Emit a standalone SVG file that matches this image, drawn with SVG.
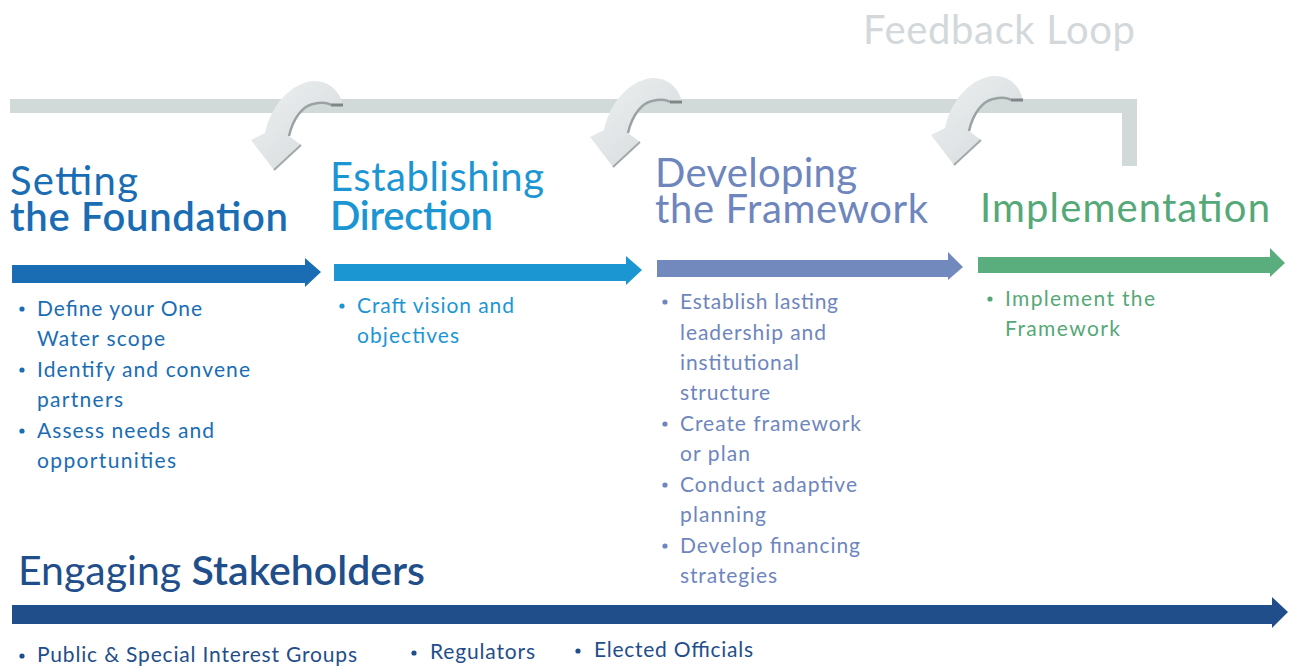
<svg xmlns="http://www.w3.org/2000/svg" width="1291" height="669" viewBox="0 0 1291 669">
<style>
text{font-family:Lato,"Open Sans","Liberation Sans",sans-serif}
.h{font-size:40px}
.hb{font-size:40px;font-weight:600}
.b{font-size:21px}
.c1{fill:#1a6db3}
.c2{fill:#1c96d3}
.c3{fill:#6e86bd}
.c4{fill:#55a877}
.c5{fill:#1f4e8a}
</style>
<defs>
<linearGradient id="cg" x1="0" y1="0" x2="1" y2="1">
<stop offset="0" stop-color="#eef1f2"/>
<stop offset="1" stop-color="#d3d8da"/>
</linearGradient>
<g id="curl">
<path d="M92,25 C88,8 75,0 62,1 C40,3 20,25 14,53 L0,60 L23,90 L50,65 L38,56 C42,38 52,26 62,24 C70,22 76,22 80,25 Z" fill="url(#cg)"/>
<path d="M38,56 C42,38 52,26 62,24 C70,22 76,22 80,25" fill="none" stroke="#9ba2a4" stroke-width="2.5"/>
<path d="M80,25 L92,25" fill="none" stroke="#7f8688" stroke-width="3"/>
<path d="M50,65 L23,90" fill="none" stroke="#a3a9ab" stroke-width="2"/>
</g>
</defs>

<g id="feedback-loop">
<text x="863" y="44" font-size="40" fill="#d3d8db" textLength="272">Feedback Loop</text>
<path d="M10,99 H1137 V166 H1122 V113 H10 Z" fill="#d2d9d9"/>
</g>

<g id="curls">
<use href="#curl" transform="translate(251,80)"/>
<use href="#curl" transform="translate(590,77)"/>
<use href="#curl" transform="translate(931,75)"/>
</g>

<g id="connectors">
<path d="M12,265 H305 V258 L321,272 L305,287 V283 H12 Z" fill="#1a6db3"/>
<path d="M334,264 H626 V256 L642,270 L626,285 V281 H334 Z" fill="#1c96d3"/>
<path d="M657,260 H948 V252 L963,267 L948,280 V277 H657 Z" fill="#7289bd"/>
<path d="M978,257 H1270 V248 L1285,263 L1270,277 V273 H978 Z" fill="#5aad7c"/>
<path d="M12,605 H1272 V597 L1288,612 L1272,628 V624 H12 Z" fill="#1f4e8a"/>
</g>

<g id="setting-foundation">
<text class="h c1" x="10" y="195" textLength="128">Setting</text>
<text class="hb c1" x="10" y="231" textLength="278">the Foundation</text>
<g class="b c1">
<circle cx="22" cy="309" r="2.6" fill="#1a6db3"/>
<text x="37" y="316" textLength="165">Define your One</text>
<text x="37" y="346" textLength="128">Water scope</text>
<circle cx="22" cy="370" r="2.6" fill="#1a6db3"/>
<text x="37" y="377" textLength="213">Identify and convene</text>
<text x="37" y="407" textLength="86">partners</text>
<circle cx="22" cy="431" r="2.6" fill="#1a6db3"/>
<text x="37" y="438" textLength="177">Assess needs and</text>
<text x="37" y="468" textLength="139">opportunities</text>
</g>
</g>

<g id="establishing-direction">
<text class="h c2" x="330" y="191" textLength="214">Establishing</text>
<text class="hb c2" x="330" y="230" textLength="163">Direction</text>
<g class="b c2">
<circle cx="342" cy="306" r="2.6" fill="#1c96d3"/>
<text x="357" y="313" textLength="157">Craft vision and</text>
<text x="357" y="343" textLength="102">objectives</text>
</g>
</g>

<g id="developing-framework">
<text class="h c3" x="655" y="187" textLength="202">Developing</text>
<text class="h c3" x="655" y="223" textLength="273">the Framework</text>
<g class="b c3">
<circle cx="665" cy="302" r="2.6" fill="#6e86bd"/>
<text x="680" y="309" textLength="158">Establish lasting</text>
<text x="680" y="340" textLength="146">leadership and</text>
<text x="680" y="370" textLength="119">institutional</text>
<text x="680" y="400" textLength="90">structure</text>
<circle cx="665" cy="424" r="2.6" fill="#6e86bd"/>
<text x="680" y="431" textLength="181">Create framework</text>
<text x="680" y="461" textLength="70">or plan</text>
<circle cx="665" cy="485" r="2.6" fill="#6e86bd"/>
<text x="680" y="492" textLength="177">Conduct adaptive</text>
<text x="680" y="522" textLength="86">planning</text>
<circle cx="665" cy="546" r="2.6" fill="#6e86bd"/>
<text x="680" y="553" textLength="180">Develop financing</text>
<text x="680" y="583" textLength="97">strategies</text>
</g>
</g>

<g id="implementation">
<text class="h c4" x="980" y="222" textLength="290">Implementation</text>
<g class="b c4">
<circle cx="990" cy="299" r="2.6" fill="#55a877"/>
<text x="1005" y="306" textLength="150">Implement the</text>
<text x="1005" y="336" textLength="115">Framework</text>
</g>
</g>

<g id="engaging-stakeholders">
<text class="c5" x="18" y="585" font-size="41" textLength="407">Engaging <tspan font-weight="600">Stakeholders</tspan></text>
<g class="b c5">
<circle cx="22" cy="656" r="2.6" fill="#1f4e8a"/>
<text x="37" y="662" textLength="320">Public &amp; Special Interest Groups</text>
<circle cx="414" cy="653" r="2.6" fill="#1f4e8a"/>
<text x="430" y="659" textLength="105">Regulators</text>
<circle cx="578" cy="651" r="2.6" fill="#1f4e8a"/>
<text x="594" y="657" textLength="159">Elected Officials</text>
</g>
</g>
</svg>
